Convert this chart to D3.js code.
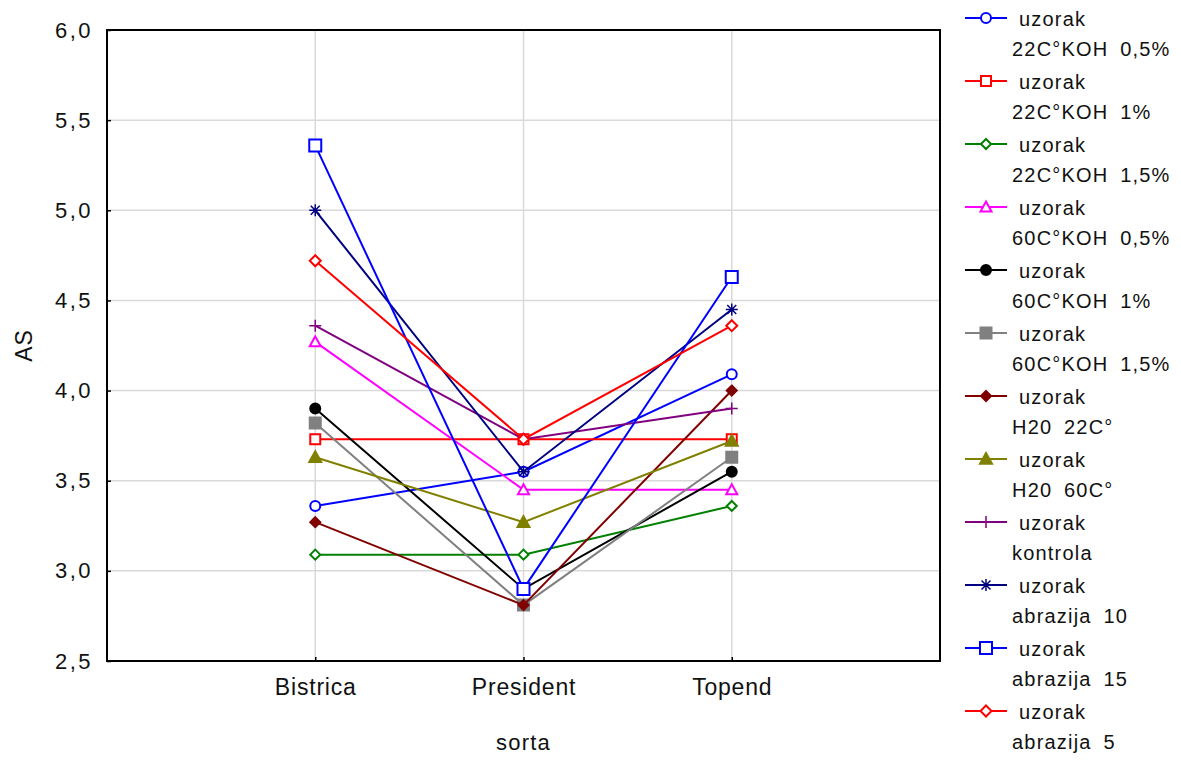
<!DOCTYPE html>
<html>
<head>
<meta charset="utf-8">
<script src="https://cdn.jsdelivr.net/npm/d3@7"></script>
<style>
  body { margin: 0; background: #fff; }
  svg text { font-family: "Liberation Sans", Arial, sans-serif; fill: #111; }
</style>
</head>
<body>
<svg id="chart" width="1181" height="760"></svg>
<script>
// categories on x axis
const categories = ['Bistrica', 'President', 'Topend'];

// series names (legend second line)
const seriesNames = [
    '22C°KOH 0,5%', '22C°KOH 1%', '22C°KOH 1,5%',
    '60C°KOH 0,5%', '60C°KOH 1%', '60C°KOH 1,5%',
    'H20 22C°', 'H20 60C°', 'kontrola',
    'abrazija 10', 'abrazija 15', 'abrazija 5'
];

// AS values per series (Bistrica, President, Topend)
const kohA = [3.36, 3.55, 4.09];
const kohB = [3.73, 3.73, 3.73];
const kohC = [3.09, 3.09, 3.36];
const kohD = [4.27, 3.45, 3.45];
const kohE = [3.90, 2.90, 3.55];
const kohF = [3.82, 2.81, 3.63];
const h2o22 = [3.27, 2.81, 4.00];
const h2o60 = [3.63, 3.27, 3.72];
const kontrola = [4.36, 3.73, 3.90];
const abr10 = [5.00, 3.55, 4.45];
const abr15 = [5.36, 2.90, 4.63];
const abr5 = [4.72, 3.73, 4.36];
const seriesValues = [kohA, kohB, kohC, kohD, kohE, kohF, h2o22, h2o60, kontrola, abr10, abr15, abr5];

const yTicks = [2.5, 3.0, 3.5, 4.0, 4.5, 5.0, 5.5, 6.0];

// styling per series
const colors = ['#0000ff', '#ff0000', '#008000', '#ff00ff', '#000000', '#808080',
    '#800000', '#808000', '#800080', '#000080', '#0000ff', '#ff0000'];
const shapes = ['circle', 'square', 'diamond', 'triangle', 'circle', 'square',
    'diamond', 'triangle', 'plus', 'star', 'square', 'diamond'];
const filled = [false, false, false, false, true, true, true, true, false, false, false, false];
const sizes = [5, 5, 5, 5.5, 5, 5.5, 5, 6, 6, 6, 6, 5.5];

const margin = { top: 30, right: 241, bottom: 99, left: 107 };
const width = 1181 - margin.left - margin.right;
const height = 760 - margin.top - margin.bottom;

const svg = d3.select('#chart');
const chart = svg.append('g')
    .attr('transform', `translate(${margin.left},${margin.top})`);

const x = d3.scalePoint().domain(categories).range([0, width]).padding(1);
const y = d3.scaleLinear().domain([2.5, 6.0]).range([height, 0]);

// marker path centered on 0,0
function markerPath(shape, r) {
    switch (shape) {
        case 'circle':
            return `M${-r},0A${r},${r} 0 1,0 ${r},0A${r},${r} 0 1,0 ${-r},0Z`;
        case 'square':
            return `M${-r},${-r}H${r}V${r}H${-r}Z`;
        case 'diamond':
            return `M0,${-r}L${r},0L0,${r}L${-r},0Z`;
        case 'triangle':
            return `M0,${-r}L${r},${r * 0.8}L${-r},${r * 0.8}Z`;
        case 'plus':
            return `M${-r},0H${r}M0,${-r}V${r}`;
        case 'star': {
            const d = r * 0.75;
            return `M${-r},0H${r}M0,${-r}V${r}M${-d},${-d}L${d},${d}M${-d},${d}L${d},${-d}`;
        }
    }
}

// grid lines
chart.append('g')
    .selectAll('line')
    .data(yTicks.slice(1, -1))
    .join('line')
    .attr('x1', 0).attr('x2', width)
    .attr('y1', d => y(d)).attr('y2', d => y(d))
    .attr('stroke', '#d9d9d9').attr('stroke-width', 1.5);

chart.append('g')
    .selectAll('line')
    .data(categories)
    .join('line')
    .attr('x1', d => x(d)).attr('x2', d => x(d))
    .attr('y1', 0).attr('y2', height)
    .attr('stroke', '#d9d9d9').attr('stroke-width', 1.5);

// frame
chart.append('rect')
    .attr('width', width).attr('height', height)
    .attr('fill', 'none').attr('stroke', '#000').attr('stroke-width', 2);

// axes with inner ticks
const yAxis = chart.append('g')
    .call(d3.axisLeft(y).tickValues(yTicks).tickSizeInner(-4).tickSizeOuter(0)
        .tickPadding(14).tickFormat(d => d3.format('.1f')(d).replace('.', ',')));
yAxis.select('.domain').remove();
yAxis.selectAll('line').attr('stroke', '#000').attr('stroke-width', 1.5);
yAxis.selectAll('text')
    .attr('font-size', 22).attr('letter-spacing', 2.5).attr('fill', '#111')
    .style('font-family', '"Liberation Sans", Arial, sans-serif');

const xAxis = chart.append('g')
    .attr('transform', `translate(0,${height})`)
    .call(d3.axisBottom(x).tickSizeInner(-4).tickSizeOuter(0).tickPadding(18));
xAxis.select('.domain').remove();
xAxis.selectAll('line').attr('stroke', '#000').attr('stroke-width', 1.5);
xAxis.selectAll('text')
    .attr('font-size', 23).attr('letter-spacing', 0.8).attr('fill', '#111')
    .style('font-family', '"Liberation Sans", Arial, sans-serif');

// axis titles
svg.append('text')
    .attr('transform', `translate(32,${margin.top + height / 2}) rotate(-90)`)
    .attr('text-anchor', 'middle')
    .attr('font-size', 23)
    .attr('letter-spacing', 1)
    .text('AS');

svg.append('text')
    .attr('x', margin.left + width / 2)
    .attr('y', 750)
    .attr('text-anchor', 'middle')
    .attr('font-size', 22)
    .attr('letter-spacing', 1.2)
    .text('sorta');

// series lines and markers
const line = d3.line()
    .x((d, i) => x(categories[i]))
    .y(d => y(d));

seriesValues.forEach((vals, s) => {
    const g = chart.append('g').attr('class', 'series');
    g.append('path')
        .attr('d', line(vals))
        .attr('fill', 'none')
        .attr('stroke', colors[s])
        .attr('stroke-width', 2);
    g.selectAll('.marker')
        .data(vals)
        .join('path')
        .attr('class', 'marker')
        .attr('transform', (d, i) => `translate(${x(categories[i])},${y(d)})`)
        .attr('d', markerPath(shapes[s], sizes[s]))
        .attr('fill', filled[s] ? colors[s] : '#fff')
        .attr('stroke', colors[s])
        .attr('stroke-width', shapes[s] === 'plus' || shapes[s] === 'star' ? 1.5 : 2);
});

// legend
const legend = svg.append('g')
    .attr('transform', 'translate(965,18)');
const entryHeight = 63;

const entries = legend.selectAll('.legend-entry')
    .data(seriesNames)
    .join('g')
    .attr('class', 'legend-entry')
    .attr('transform', (d, i) => `translate(0,${i * entryHeight})`);

entries.append('line')
    .attr('x1', 0).attr('x2', 42)
    .attr('stroke', (d, i) => colors[i])
    .attr('stroke-width', 2);

entries.append('path')
    .attr('transform', 'translate(21,0)')
    .attr('d', (d, i) => markerPath(shapes[i], sizes[i]))
    .attr('fill', (d, i) => filled[i] ? colors[i] : '#fff')
    .attr('stroke', (d, i) => colors[i])
    .attr('stroke-width', (d, i) => shapes[i] === 'plus' || shapes[i] === 'star' ? 1.5 : 2);

entries.append('text')
    .attr('x', 54).attr('y', 8)
    .attr('font-size', 20)
    .attr('letter-spacing', 1.2)
    .text('uzorak');

entries.append('text')
    .attr('x', 47).attr('y', 38)
    .attr('font-size', 20)
    .attr('letter-spacing', 1.2)
    .attr('word-spacing', 5)
    .text(d => d);
</script>
</body>
</html>
